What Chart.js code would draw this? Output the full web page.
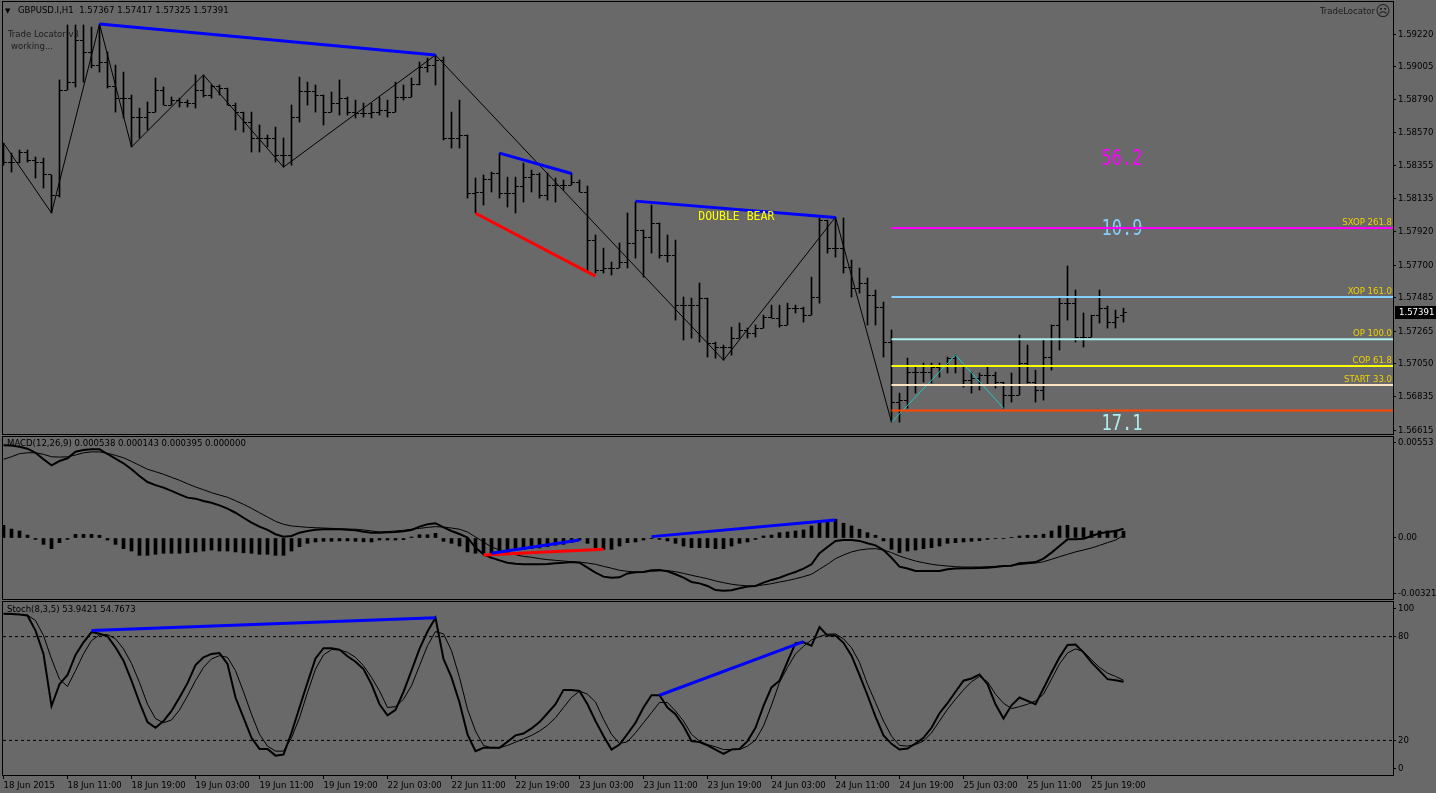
<!DOCTYPE html>
<html lang="en">
<head>
<meta charset="UTF-8" />
<title>GBPUSD.I,H1</title>
<style>
  html, body { margin: 0; padding: 0; background: #696969; }
  body { width: 1436px; height: 793px; position: relative; overflow: hidden; }
  canvas { position: absolute; left: 0; }
  #price { top: 0; }
  #macd { top: 435px; }
  #stoch { top: 600px; }
</style>
<script src="https://cdn.jsdelivr.net/npm/chart.js"></script>
</head>
<body>
<canvas id="price" width="1436" height="436"></canvas>
<canvas id="macd" width="1436" height="166"></canvas>
<canvas id="stoch" width="1436" height="193"></canvas>
<script>
// ---- data (bar index 0 = 18 Jun 03:00) ----
const timeLabels = ["18 Jun 2015", "18 Jun 11:00", "18 Jun 19:00", "19 Jun 03:00", "19 Jun 11:00",
  "19 Jun 19:00", "22 Jun 03:00", "22 Jun 11:00", "22 Jun 19:00", "23 Jun 03:00", "23 Jun 11:00",
  "23 Jun 19:00", "24 Jun 03:00", "24 Jun 11:00", "24 Jun 19:00", "25 Jun 03:00", "25 Jun 11:00",
  "25 Jun 19:00"];
const timeTickIdx = [0, 8, 16, 24, 32, 40, 48, 56, 64, 72, 80, 88, 96, 104, 112, 120, 128, 136];

const opens = [
  1.58457, 1.58372, 1.58378, 1.58444, 1.58391, 1.58372, 1.58293, 1.58161, 1.58852, 1.58904,
  1.59181, 1.59102, 1.59016, 1.59036, 1.58872, 1.58799, 1.58799, 1.58668, 1.58668, 1.58707,
  1.58852, 1.58753, 1.58786, 1.58773, 1.58766, 1.58852, 1.58819, 1.58872, 1.58865, 1.58753,
  1.58707, 1.58635, 1.58536, 1.58536, 1.58536, 1.58424, 1.58424, 1.58668, 1.58839, 1.58839,
  1.58819, 1.58707, 1.58766, 1.58799, 1.58707, 1.58700, 1.58700, 1.58707, 1.58720, 1.58707,
  1.58806, 1.58806, 1.58885, 1.58997, 1.59016, 1.59049, 1.58536, 1.58536, 1.58556, 1.58174,
  1.58181, 1.58260, 1.58306, 1.58174, 1.58174, 1.58214, 1.58279, 1.58293, 1.58161, 1.58227,
  1.58227, 1.58227, 1.58246, 1.58181, 1.57865, 1.57667, 1.57681, 1.57681, 1.57720, 1.57845,
  1.57931, 1.57885, 1.57977, 1.57766, 1.57766, 1.57437, 1.57437, 1.57437, 1.57483, 1.57187,
  1.57161, 1.57161, 1.57220, 1.57273, 1.57253, 1.57286, 1.57358, 1.57352, 1.57306, 1.57417,
  1.57417, 1.57371, 1.57490, 1.57996, 1.57812, 1.57812, 1.57687, 1.57549, 1.57582, 1.57503,
  1.57424, 1.57194, 1.56799, 1.56812, 1.56996, 1.56996, 1.56996, 1.57029, 1.57042, 1.57088,
  1.57042, 1.56944, 1.56957, 1.56977, 1.56977, 1.56930, 1.56845, 1.56845, 1.57056, 1.56930,
  1.56878, 1.57095, 1.57306, 1.57450, 1.57450, 1.57227, 1.57227, 1.57371, 1.57417, 1.57325,
  1.57367];
const highs = [
  1.58503, 1.58437, 1.58457, 1.58457, 1.58411, 1.58404, 1.58293, 1.58918, 1.59280, 1.59280,
  1.59280, 1.59266, 1.59286, 1.59102, 1.59016, 1.58970, 1.58819, 1.58733, 1.58773, 1.58931,
  1.58872, 1.58806, 1.58799, 1.58786, 1.58951, 1.58951, 1.58885, 1.58885, 1.58865, 1.58766,
  1.58707, 1.58707, 1.58622, 1.58556, 1.58608, 1.58536, 1.58753, 1.58937, 1.58904, 1.58885,
  1.58819, 1.58839, 1.58918, 1.58806, 1.58786, 1.58766, 1.58766, 1.58806, 1.58786, 1.58904,
  1.58885, 1.58931, 1.59036, 1.59062, 1.59082, 1.59069, 1.58707, 1.58786, 1.58556, 1.58273,
  1.58293, 1.58312, 1.58437, 1.58279, 1.58279, 1.58372, 1.58325, 1.58306, 1.58306, 1.58273,
  1.58260, 1.58306, 1.58260, 1.58220, 1.57898, 1.57812, 1.57720, 1.57845, 1.58043, 1.58115,
  1.57931, 1.58095, 1.57977, 1.57898, 1.57865, 1.57490, 1.57483, 1.57582, 1.57483, 1.57194,
  1.57174, 1.57292, 1.57319, 1.57286, 1.57306, 1.57371, 1.57437, 1.57437, 1.57450, 1.57437,
  1.57424, 1.57621, 1.58010, 1.57996, 1.58016, 1.58010, 1.57733, 1.57681, 1.57615, 1.57536,
  1.57457, 1.57273, 1.56858, 1.57088, 1.57029, 1.57056, 1.57056, 1.57056, 1.57095, 1.57108,
  1.57042, 1.56996, 1.56990, 1.57029, 1.56996, 1.56930, 1.56990, 1.57240, 1.57174, 1.57009,
  1.57207, 1.57306, 1.57483, 1.57694, 1.57536, 1.57385, 1.57371, 1.57536, 1.57431, 1.57404,
  1.57417];
const lows = [
  1.58358, 1.58312, 1.58372, 1.58378, 1.58273, 1.58207, 1.58043, 1.58148, 1.58852, 1.58872,
  1.58904, 1.58997, 1.58970, 1.58865, 1.58707, 1.58668, 1.58477, 1.58536, 1.58589, 1.58707,
  1.58753, 1.58753, 1.58740, 1.58740, 1.58733, 1.58806, 1.58799, 1.58819, 1.58753, 1.58589,
  1.58575, 1.58444, 1.58444, 1.58477, 1.58378, 1.58345, 1.58358, 1.58641, 1.58753, 1.58707,
  1.58622, 1.58707, 1.58687, 1.58687, 1.58668, 1.58674, 1.58668, 1.58687, 1.58674, 1.58707,
  1.58786, 1.58806, 1.58885, 1.58970, 1.58885, 1.58523, 1.58470, 1.58470, 1.58141, 1.58043,
  1.58095, 1.58181, 1.58141, 1.58082, 1.58043, 1.58115, 1.58181, 1.58141, 1.58128, 1.58115,
  1.58194, 1.58227, 1.58181, 1.57654, 1.57648, 1.57648, 1.57635, 1.57681, 1.57681, 1.57746,
  1.57621, 1.57779, 1.57746, 1.57720, 1.57338, 1.57207, 1.57220, 1.57194, 1.57095, 1.57088,
  1.57075, 1.57108, 1.57220, 1.57220, 1.57227, 1.57286, 1.57352, 1.57292, 1.57306, 1.57385,
  1.57325, 1.57371, 1.57450, 1.57779, 1.57753, 1.57648, 1.57490, 1.57516, 1.57306, 1.57306,
  1.57095, 1.56667, 1.56667, 1.56759, 1.56858, 1.56930, 1.56924, 1.56963, 1.56990, 1.56990,
  1.56898, 1.56858, 1.56878, 1.56911, 1.56891, 1.56759, 1.56799, 1.56845, 1.56924, 1.56799,
  1.56812, 1.57009, 1.57141, 1.57338, 1.57194, 1.57161, 1.57227, 1.57319, 1.57286, 1.57286,
  1.57325];
const closes = [
  1.58372, 1.58378, 1.58444, 1.58391, 1.58372, 1.58293, 1.58161, 1.58852, 1.58904, 1.59181,
  1.59102, 1.59016, 1.59036, 1.58872, 1.58799, 1.58799, 1.58668, 1.58668, 1.58707, 1.58852,
  1.58753, 1.58786, 1.58773, 1.58766, 1.58852, 1.58819, 1.58872, 1.58865, 1.58753, 1.58707,
  1.58635, 1.58536, 1.58536, 1.58536, 1.58424, 1.58424, 1.58668, 1.58839, 1.58839, 1.58819,
  1.58707, 1.58766, 1.58799, 1.58707, 1.58700, 1.58700, 1.58707, 1.58720, 1.58707, 1.58806,
  1.58806, 1.58885, 1.58997, 1.59016, 1.59049, 1.58536, 1.58536, 1.58556, 1.58174, 1.58181,
  1.58260, 1.58306, 1.58174, 1.58174, 1.58214, 1.58279, 1.58293, 1.58161, 1.58227, 1.58227,
  1.58227, 1.58246, 1.58181, 1.57865, 1.57667, 1.57681, 1.57681, 1.57720, 1.57845, 1.57931,
  1.57885, 1.57977, 1.57766, 1.57766, 1.57437, 1.57437, 1.57437, 1.57483, 1.57187, 1.57161,
  1.57161, 1.57220, 1.57273, 1.57253, 1.57286, 1.57358, 1.57352, 1.57306, 1.57417, 1.57417,
  1.57371, 1.57490, 1.57996, 1.57812, 1.57812, 1.57687, 1.57549, 1.57582, 1.57503, 1.57424,
  1.57194, 1.56799, 1.56812, 1.56996, 1.56996, 1.56996, 1.57029, 1.57042, 1.57088, 1.57042,
  1.56944, 1.56957, 1.56977, 1.56977, 1.56930, 1.56845, 1.56845, 1.57056, 1.56930, 1.56878,
  1.57095, 1.57306, 1.57450, 1.57450, 1.57227, 1.57227, 1.57371, 1.57417, 1.57325, 1.57358,
  1.57391];

// zigzag pivots and pattern lines on the price pane
const zigIdx = [0, 6, 12, 16, 25, 35, 54, 90, 104, 111];
const zigPrice = [1.58503, 1.58043, 1.59286, 1.58477, 1.58951, 1.58345, 1.59082, 1.57075, 1.58016, 1.56667];
const cyanIdx = [111, 119, 125];
const cyanPrice = [1.56667, 1.57108, 1.56759];
const priceBlueIdx = [[12, 54], [62, 71], [79, 104]];
const priceBluePrice = [[1.59286, 1.59082], [1.58437, 1.58303], [1.58121, 1.58014]];
const priceRedIdx = [[59, 74]];
const priceRedPrice = [[1.58041, 1.57628]];

// Trade Locator levels
const levelStart = 111;
const levelNames = ["SXOP 261.8", "XOP 161.0", "OP 100.0", "COP 61.8", "START 33.0", ""];
const levelPrices = [1.57944, 1.57490, 1.57213, 1.57036, 1.56911, 1.56743];
const bigNumbers = ["56.2", "10.9", "17.1"];
const bigNumberPrices = [1.58391, 1.57931, 1.56654];

const priceTicks = [1.59220, 1.59005, 1.58790, 1.58570, 1.58355, 1.58135, 1.57920, 1.57700,
  1.57485, 1.57265, 1.57050, 1.56835, 1.56615];

// MACD(12,26,9)
const macdMain = [
  0.00540, 0.00538, 0.00531, 0.00520, 0.00496, 0.00458, 0.00423, 0.00448, 0.00464, 0.00502,
  0.00512, 0.00516, 0.00516, 0.00489, 0.00462, 0.00435, 0.00400, 0.00361, 0.00326, 0.00308,
  0.00293, 0.00274, 0.00254, 0.00235, 0.00229, 0.00215, 0.00205, 0.00190, 0.00171, 0.00147,
  0.00118, 0.00089, 0.00066, 0.00047, 0.00022, 0.00008, 0.00012, 0.00031, 0.00041, 0.00048,
  0.00051, 0.00051, 0.00051, 0.00048, 0.00045, 0.00037, 0.00031, 0.00031, 0.00033, 0.00035,
  0.00039, 0.00047, 0.00066, 0.00080, 0.00086, 0.00062, 0.00041, 0.00023, 0.00002, -0.00056,
  -0.00095, -0.00115, -0.00130, -0.00144, -0.00150, -0.00153, -0.00153, -0.00153, -0.00151, -0.00147,
  -0.00144, -0.00140, -0.00144, -0.00173, -0.00202, -0.00225, -0.00231, -0.00229, -0.00206, -0.00200,
  -0.00198, -0.00188, -0.00186, -0.00194, -0.00211, -0.00231, -0.00256, -0.00264, -0.00279, -0.00303,
  -0.00307, -0.00304, -0.00293, -0.00283, -0.00279, -0.00260, -0.00244, -0.00231, -0.00213, -0.00198,
  -0.00178, -0.00153, -0.00089, -0.00052, -0.00017, -0.00012, -0.00012, -0.00017, -0.00031, -0.00043,
  -0.00070, -0.00115, -0.00167, -0.00178, -0.00192, -0.00192, -0.00192, -0.00192, -0.00182, -0.00178,
  -0.00176, -0.00176, -0.00175, -0.00173, -0.00169, -0.00163, -0.00161, -0.00147, -0.00144, -0.00140,
  -0.00120, -0.00085, -0.00047, -0.00008, -0.00008, -0.00004, 0.00012, 0.00027, 0.00035, 0.00041,
  0.000538];
const macdSignal = [
  0.00458, 0.00473, 0.00491, 0.00496, 0.00496, 0.00487, 0.00473, 0.00471, 0.00473, 0.00483,
  0.00496, 0.00501, 0.00501, 0.00493, 0.00481, 0.00467, 0.00446, 0.00423, 0.00400, 0.00386,
  0.00371, 0.00353, 0.00336, 0.00316, 0.00297, 0.00281, 0.00264, 0.00250, 0.00237, 0.00217,
  0.00196, 0.00173, 0.00147, 0.00122, 0.00097, 0.00080, 0.00070, 0.00066, 0.00062, 0.00060,
  0.00058, 0.00056, 0.00054, 0.00052, 0.00051, 0.00047, 0.00041, 0.00035, 0.00037, 0.00041,
  0.00045, 0.00051, 0.00056, 0.00062, 0.00066, 0.00064, 0.00058, 0.00051, 0.00035, 0.00006,
  -0.00023, -0.00052, -0.00070, -0.00085, -0.00097, -0.00107, -0.00112, -0.00120, -0.00126, -0.00130,
  -0.00134, -0.00138, -0.00140, -0.00146, -0.00153, -0.00165, -0.00176, -0.00188, -0.00194, -0.00198,
  -0.00198, -0.00194, -0.00190, -0.00190, -0.00196, -0.00206, -0.00217, -0.00227, -0.00237, -0.00250,
  -0.00260, -0.00269, -0.00275, -0.00279, -0.00279, -0.00273, -0.00266, -0.00256, -0.00248, -0.00237,
  -0.00225, -0.00211, -0.00182, -0.00153, -0.00120, -0.00099, -0.00081, -0.00070, -0.00064, -0.00062,
  -0.00070, -0.00085, -0.00105, -0.00120, -0.00134, -0.00144, -0.00153, -0.00159, -0.00163, -0.00167,
  -0.00169, -0.00169, -0.00169, -0.00167, -0.00165, -0.00163, -0.00159, -0.00155, -0.00150, -0.00146,
  -0.00138, -0.00124, -0.00109, -0.00095, -0.00081, -0.00070, -0.00058, -0.00043, -0.00027, -0.00012,
  0.000143];
const macdHist = [
  0.00074, 0.00052, 0.00041, 0.00017, -0.00008, -0.00037, -0.00062, -0.00027, -0.00008, 0.00021,
  0.00021, 0.00021, 0.00016, -0.00012, -0.00037, -0.00062, -0.00076, -0.00101, -0.00101, -0.00095,
  -0.00089, -0.00089, -0.00089, -0.00086, -0.00081, -0.00076, -0.00070, -0.00076, -0.00076, -0.00081,
  -0.00086, -0.00089, -0.00095, -0.00095, -0.00101, -0.00101, -0.00076, -0.00051, -0.00031, -0.00023,
  -0.00019, -0.00019, -0.00017, -0.00017, -0.00019, -0.00022, -0.00023, -0.00012, -0.00012, -0.00012,
  -0.00010, 0.00006, 0.00019, 0.00019, 0.00027, -0.00019, -0.00031, -0.00047, -0.00081, -0.00089,
  -0.00086, -0.00095, -0.00086, -0.00076, -0.00070, -0.00066, -0.00062, -0.00058, -0.00051, -0.00042,
  -0.00037, -0.00027, -0.00012, -0.00031, -0.00056, -0.00066, -0.00066, -0.00047, -0.00027, -0.00023,
  -0.00012, -0.00002, -0.00008, -0.00017, -0.00031, -0.00047, -0.00056, -0.00056, -0.00056, -0.00062,
  -0.00062, -0.00047, -0.00031, -0.00023, -0.00008, 0.00012, 0.00017, 0.00031, 0.00035, 0.00041,
  0.00047, 0.00070, 0.00089, 0.00093, 0.00109, 0.00086, 0.00070, 0.00051, 0.00031, 0.00016,
  -0.00017, -0.00066, -0.00086, -0.00076, -0.00070, -0.00062, -0.00056, -0.00047, -0.00031, -0.00027,
  -0.00023, -0.00019, -0.00016, -0.00008, -0.00004, -0.00002, 0.00002, 0.00012, 0.00016, 0.00016,
  0.00022, 0.00041, 0.00070, 0.00074, 0.00060, 0.00060, 0.00041, 0.00041, 0.00041, 0.00045,
  0.000395];
const macdBlueIdx = [[61, 72], [81, 104]];
const macdBlueVal = [[-0.00089, -0.00012], [0.00008, 0.00105]];
const macdRedIdx = [[60, 75]];
const macdRedVal = [[-0.00099, -0.00066]];
const macdTicks = [0.00553, 0, -0.003213];
const macdTickLabels = ["0.00553", "0.00", "-0.003213"];

// Stochastic(8,3,5)
const stochMain = [
  93.2, 93.0, 92.8, 92.2, 83.5, 70.0, 39.9, 52.5, 57.8, 69.4,
  76.7, 82.6, 81.6, 80.2, 73.8, 66.1, 54.5, 41.9, 30.6, 27.3,
  31.2, 37.0, 44.8, 53.1, 63.6, 68.0, 70.0, 70.5, 64.2, 44.8,
  33.1, 21.5, 15.1, 15.1, 11.2, 11.8, 24.4, 39.0, 53.5, 67.4,
  73.3, 73.3, 72.5, 68.6, 65.5, 61.2, 52.5, 40.9, 34.5, 37.6,
  48.1, 60.3, 72.9, 82.9, 90.9, 67.1, 56.4, 41.9, 23.5, 13.8,
  15.7, 15.7, 15.7, 19.2, 22.9, 24.0, 26.9, 30.6, 35.7, 40.9,
  49.2, 49.2, 48.6, 40.9, 31.2, 22.5, 14.7, 17.6, 23.8, 30.2,
  39.0, 46.1, 46.1, 39.0, 35.1, 28.3, 19.6, 19.0, 17.1, 14.7,
  12.2, 14.7, 15.1, 19.6, 27.3, 39.9, 50.6, 54.5, 65.5, 76.2,
  76.7, 74.8, 85.5, 80.6, 80.6, 76.4, 69.0, 57.8, 46.1, 33.7,
  22.9, 18.0, 14.7, 15.3, 18.2, 21.5, 27.3, 35.7, 41.5, 48.1,
  54.5, 55.8, 58.1, 52.5, 40.9, 32.6, 40.3, 44.8, 42.8, 40.9,
  50.0, 59.3, 68.0, 75.2, 75.4, 70.9, 65.1, 60.3, 55.4, 54.8,
  53.9421];
const stochSignal = [
  93.2, 93.0, 92.8, 92.4, 89.3, 80.6, 67.1, 55.4, 51.2, 60.3,
  70.0, 77.7, 81.0, 81.2, 78.7, 72.9, 64.5, 53.5, 40.9, 32.6,
  30.2, 31.8, 37.6, 45.7, 54.5, 62.2, 67.1, 69.0, 68.0, 60.3,
  48.1, 35.1, 23.5, 16.7, 13.8, 13.8, 21.5, 33.1, 47.7, 61.2,
  69.4, 72.5, 72.3, 70.9, 68.0, 63.2, 56.4, 48.6, 39.0, 39.5,
  43.8, 51.6, 63.2, 74.8, 82.9, 81.6, 71.9, 56.4, 38.0, 25.4,
  17.1, 15.7, 15.7, 17.1, 19.0, 20.9, 22.9, 25.4, 28.7, 33.1,
  39.0, 44.8, 48.5, 46.7, 42.2, 32.2, 23.5, 18.2, 19.2, 24.4,
  30.2, 36.0, 41.9, 41.9, 37.0, 31.2, 23.5, 19.6, 17.6, 16.3,
  14.7, 14.7, 14.7, 16.7, 20.2, 28.3, 40.3, 53.5, 62.2, 70.0,
  74.4, 78.1, 80.0, 81.4, 81.6, 78.7, 73.6, 65.1, 52.5, 41.9,
  31.2, 22.5, 17.1, 16.7, 17.6, 19.6, 24.4, 31.2, 38.0, 43.8,
  49.2, 53.9, 57.0, 53.9, 46.7, 41.5, 38.4, 39.5, 40.9, 42.8,
  46.7, 55.4, 64.2, 70.5, 72.9, 71.3, 66.7, 62.2, 58.9, 57.0,
  54.7673];
const stochBlueIdx = [[11, 54], [82, 100]];
const stochBlueVal = [[83.5, 90.9], [46.1, 77.1]];
const stochLevels = [80, 20];
const stochTickLabels = ["100", "80", "20", "0"];

// ---- look and layout ----
const FONT = "'DejaVu Sans Condensed', 'DejaVu Sans', sans-serif";
const MONO = "'DejaVu Sans Mono', monospace";
const TEXT_DARK = '#1c1c1c';
const LEVEL_COLORS = ['#ff00ff', '#87cefa', '#afeeee', '#ffff00', '#ffe4c4', '#ff4500'];
const BIG_COLORS = ['#ff00ff', '#87cefa', '#afeeee'];
const BIG_X = 139.8;
const XMIN = -0.0625, XMAX = 173.6875;   // 8 px per bar
const STOCH_TICK_POS = [96.5, 80, 20, 4];  // MT4 pulls the end labels inside the pane

Chart.defaults.font.family = FONT;
Chart.defaults.font.size = 9.5;
Chart.defaults.color = '#000';

const last = closes.length - 1;
const idx = closes.map((c, i) => i);

function pts(xs, ys) { return xs.map((x, i) => ({ x: x, y: ys[i] })); }

function tickImage(side) {
  const c = document.createElement('canvas');
  c.width = 7; c.height = 1;
  const g = c.getContext('2d');
  g.fillStyle = '#000';
  g.fillRect(side === 'left' ? 0 : 4, 0, 3, 1);
  return c;
}

function lineSet(data, color, width, order, dash) {
  return {
    type: 'line', data: data, borderColor: color, borderWidth: width,
    borderDash: dash || [], pointRadius: 0, pointHoverRadius: 0,
    tension: 0, fill: false, order: order
  };
}

function rightAxis(min, max, values, labels) {
  return {
    type: 'linear', position: 'right', min: min, max: max,
    afterBuildTicks: s => { s.ticks = values.map(v => ({ value: v })); },
    afterFit: s => { s.width = 43; s.paddingTop = 0; s.paddingBottom = 0; },
    ticks: { autoSkip: false, padding: 2, color: '#000', callback: (v, i) => labels[i] },
    grid: { drawOnChartArea: false, drawTicks: true, tickLength: 3, tickColor: '#000' },
    border: { display: true, color: '#000' }
  };
}

const hiddenX = { type: 'linear', min: XMIN, max: XMAX, offset: false, display: false };

function drawNotes(chart, notes) {
  const ctx = chart.ctx, xs = chart.scales.x, ys = chart.scales.y;
  notes.forEach(n => {
    ctx.save();
    ctx.font = n.font;
    ctx.fillStyle = n.color;
    ctx.textAlign = n.align || 'center';
    ctx.textBaseline = n.baseline || 'middle';
    ctx.translate(xs.getPixelForValue(n.x) + (n.dx || 0), ys.getPixelForValue(n.y) + (n.dy || 0));
    ctx.scale(1, n.sy || 1);
    ctx.fillText(n.text, 0, 0);
    ctx.restore();
  });
}

// frame, titles and data-anchored captions for one pane
function panePlugin(cfg) {
  return {
    id: 'pane',
    beforeDatasetsDraw(chart) {
      drawNotes(chart, cfg.under || []);
    },
    afterDraw(chart) {
      const ctx = chart.ctx, a = chart.chartArea;
      ctx.save();
      ctx.strokeStyle = '#000';
      ctx.lineWidth = 1;
      ctx.strokeRect(a.left - 0.5, a.top - 0.5, a.right - a.left + 1, a.bottom - a.top + 1);
      ctx.restore();
      drawNotes(chart, cfg.over || []);
      (cfg.texts || []).forEach(t => {
        ctx.save();
        ctx.font = t.font || `9.5px ${FONT}`;
        ctx.fillStyle = t.color || '#000';
        ctx.textAlign = t.align || 'left';
        ctx.textBaseline = 'middle';
        ctx.fillText(t.text, t.px, t.py);
        ctx.restore();
      });
      if (cfg.lastPrice != null) {
        const y = Math.round(chart.scales.y.getPixelForValue(cfg.lastPrice));
        ctx.save();
        ctx.fillStyle = '#000';
        ctx.fillRect(a.right + 2, y - 6, 60, 13);
        ctx.fillStyle = '#fff';
        ctx.font = `9.5px ${FONT}`;
        ctx.textBaseline = 'middle';
        ctx.fillText(cfg.lastPrice.toFixed(5), a.right + 6, y + 0.5);
        ctx.restore();
      }
    }
  };
}

function baseOptions(xCfg, yCfg, pad) {
  return {
    responsive: false, animation: false, devicePixelRatio: 1, events: [],
    layout: { padding: pad },
    plugins: { legend: { display: false }, tooltip: { enabled: false } },
    scales: { x: xCfg, y: yCfg }
  };
}

// ---- price pane ----
const priceSets = [];
priceBlueIdx.forEach((p, k) => priceSets.push(lineSet(pts(p, priceBluePrice[k]), '#0000ff', 3, 0)));
priceRedIdx.forEach((p, k) => priceSets.push(lineSet(pts(p, priceRedPrice[k]), '#ff0000', 3, 0)));
levelPrices.forEach((v, k) => priceSets.push(lineSet([{ x: levelStart, y: v }, { x: XMAX, y: v }], LEVEL_COLORS[k], 2, 1)));
priceSets.push(lineSet(pts(cyanIdx, cyanPrice), '#20c8c8', 1, 2));
priceSets.push(lineSet(pts(zigIdx, zigPrice), '#000', 1, 3));
priceSets.push({
  type: 'line', showLine: false, data: pts(idx, opens), pointStyle: tickImage('left'),
  pointRadius: 1, pointHoverRadius: 1, order: 8
});
priceSets.push({
  type: 'line', showLine: false, data: pts(idx, closes), pointStyle: tickImage('right'),
  pointRadius: 1, pointHoverRadius: 1, order: 8
});
priceSets.push({
  type: 'bar', data: idx.map(i => ({ x: i, y: [lows[i], highs[i]] })),
  backgroundColor: '#000', borderWidth: 0, barThickness: 1, grouped: false, order: 9
});

const header = `GBPUSD.I,H1  ${opens[last].toFixed(5)} ${highs[last].toFixed(5)} ${lows[last].toFixed(5)} ${closes[last].toFixed(5)}`;
const levelNotes = levelNames.map((name, k) => ({
  text: name, x: XMAX, y: levelPrices[k], dx: -1, dy: -1, align: 'right', baseline: 'bottom',
  color: '#f2d000', font: `9.5px ${FONT}`
})).filter(n => n.text);

new Chart(document.getElementById('price'), {
  type: 'line',
  data: { datasets: priceSets },
  options: baseOptions(hiddenX, rightAxis(1.56589, 1.59431, priceTicks, priceTicks.map(v => v.toFixed(5))),
    { left: 3, top: 2, right: 0, bottom: 2 }),
  plugins: [panePlugin({
    under: bigNumbers.map((t, k) => ({
      text: t, x: BIG_X, y: bigNumberPrices[k], color: BIG_COLORS[k], font: `17px ${MONO}`, sy: 1.22
    })),
    over: [{ text: 'DOUBLE BEAR', x: 91.6, y: 1.58016, color: '#ffff00', font: `11.5px ${MONO}`, sy: 1.1 }].concat(levelNotes),
    texts: [
      { text: '\u25BC', px: 5, py: 11, font: `7px 'DejaVu Sans'` },
      { text: header, px: 18, py: 11 },
      { text: 'Trade Locator v3', px: 8, py: 35, color: TEXT_DARK },
      { text: 'working...', px: 11, py: 47, color: TEXT_DARK },
      { text: 'TradeLocator', px: 1375, py: 12, align: 'right', color: TEXT_DARK },
      { text: '\u2639', px: 1383, py: 12, align: 'center', color: TEXT_DARK, font: `15px 'DejaVu Sans'` }
    ],
    lastPrice: closes[last]
  })]
});

// ---- MACD pane ----
const macdSets = [];
macdBlueIdx.forEach((p, k) => macdSets.push(lineSet(pts(p, macdBlueVal[k]), '#0000ff', 3, 0)));
macdRedIdx.forEach((p, k) => macdSets.push(lineSet(pts(p, macdRedVal[k]), '#ff0000', 3, 0)));
macdSets.push(lineSet(pts(idx, macdMain), '#000', 2, 1));
macdSets.push(lineSet(pts(idx, macdSignal), '#000', 1, 2));
macdSets.push({
  type: 'bar', data: pts(idx, macdHist), backgroundColor: '#000', borderWidth: 0,
  barThickness: 3, grouped: false, order: 5
});

new Chart(document.getElementById('macd'), {
  type: 'line',
  data: { datasets: macdSets },
  options: baseOptions(hiddenX, rightAxis(-0.003551, 0.005879, macdTicks, macdTickLabels),
    { left: 3, top: 2, right: 0, bottom: 2 }),
  plugins: [panePlugin({
    texts: [{
      text: `MACD(12,26,9) ${macdMain[last].toFixed(6)} ${macdSignal[last].toFixed(6)} ${macdHist[last].toFixed(6)} 0.000000`,
      px: 7, py: 9
    }]
  })]
});

// ---- Stochastic pane with the time axis ----
const stochSets = [];
stochBlueIdx.forEach((p, k) => stochSets.push(lineSet(pts(p, stochBlueVal[k]), '#0000ff', 3, 0)));
stochSets.push(lineSet(pts(idx, stochMain), '#000', 2, 1));
stochSets.push(lineSet(pts(idx, stochSignal), '#000', 1, 2));
stochLevels.forEach(v => stochSets.push(lineSet([{ x: XMIN, y: v }, { x: XMAX, y: v }], '#000', 1, 3, [3, 3])));

const timeAxis = {
  type: 'linear', position: 'bottom', min: XMIN, max: XMAX, offset: false,
  afterBuildTicks: s => { s.ticks = timeTickIdx.map(v => ({ value: v })); },
  afterFit: s => { s.height = 18; s.paddingLeft = 0; s.paddingRight = 0; },
  ticks: { autoSkip: false, maxRotation: 0, minRotation: 0, align: 'start', padding: 1, color: '#000',
    callback: (v, i) => timeLabels[i] },
  grid: { drawOnChartArea: false, drawTicks: true, tickLength: 4, tickColor: '#000', offset: false },
  border: { display: true, color: '#000' }
};

new Chart(document.getElementById('stoch'), {
  type: 'line',
  data: { datasets: stochSets },
  options: baseOptions(timeAxis, rightAxis(0, 100, STOCH_TICK_POS, stochTickLabels),
    { left: 3, top: 2, right: 0, bottom: 0 }),
  plugins: [panePlugin({
    texts: [{
      text: `Stoch(8,3,5) ${stochMain[last].toFixed(4)} ${stochSignal[last].toFixed(4)}`,
      px: 7, py: 10
    }]
  })]
});
</script>
</body>
</html>
